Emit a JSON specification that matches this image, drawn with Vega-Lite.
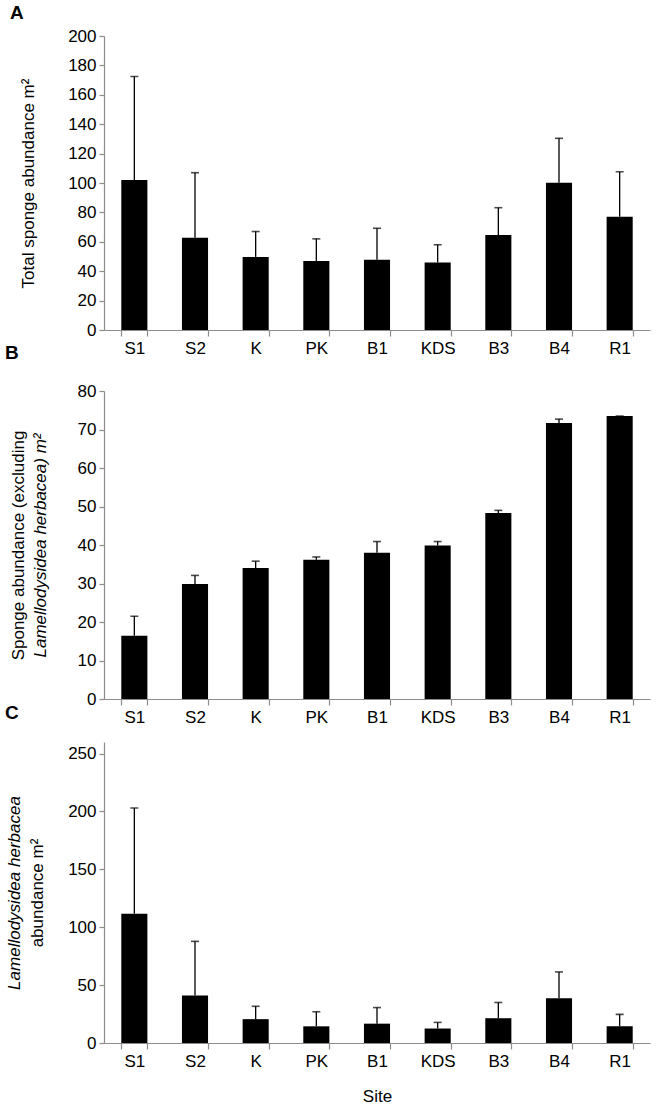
{
  "$schema": "https://vega.github.io/schema/vega-lite/v6.json",
  "background": "white",
  "padding": {"left": 5, "top": 4, "right": 3, "bottom": 3},
  "config": {
    "font": "Liberation Sans",
    "view": {"stroke": null},
    "axis": {
      "labelFont": "Liberation Sans", "labelFontSize": 17, "labelColor": "#000",
      "titleFont": "Liberation Sans", "titleFontSize": 17, "titleFontWeight": "normal", "titleColor": "#000",
      "domainColor": "#8c8c8c", "tickColor": "#8c8c8c", "grid": false, "domainWidth": 1.2, "tickWidth": 1.2
    },
    "axisX": {"labelAngle": 0, "tickBand": "extent", "tickSize": 6, "labelPadding": 4},
    "axisY": {"tickSize": 5, "labelPadding": 3, "labelOverlap": false},
    "title": {"font": "Liberation Sans", "fontSize": 19, "fontWeight": "bold", "anchor": "start", "frame": "group", "color": "#000", "baseline": "alphabetic"}
  },
  "datasets": {
    "A": [
      {"site": "S1", "mean": 102, "upper": 172.5},
      {"site": "S2", "mean": 62.8, "upper": 107},
      {"site": "K", "mean": 49.7, "upper": 67},
      {"site": "PK", "mean": 46.9, "upper": 62},
      {"site": "B1", "mean": 47.8, "upper": 69.2},
      {"site": "KDS", "mean": 46, "upper": 58},
      {"site": "B3", "mean": 64.6, "upper": 83.2},
      {"site": "B4", "mean": 100.2, "upper": 130.4},
      {"site": "R1", "mean": 77, "upper": 107.7}
    ],
    "B": [
      {"site": "S1", "mean": 16.4, "upper": 21.5},
      {"site": "S2", "mean": 29.9, "upper": 32.1},
      {"site": "K", "mean": 34, "upper": 35.8},
      {"site": "PK", "mean": 36.2, "upper": 36.9},
      {"site": "B1", "mean": 38, "upper": 40.9},
      {"site": "KDS", "mean": 39.9, "upper": 40.9},
      {"site": "B3", "mean": 48.3, "upper": 49},
      {"site": "B4", "mean": 71.7, "upper": 72.7},
      {"site": "R1", "mean": 73.5, "upper": 73.5}
    ],
    "C": [
      {"site": "S1", "mean": 111.7, "upper": 203},
      {"site": "S2", "mean": 41, "upper": 87.8},
      {"site": "K", "mean": 20.6, "upper": 31.7},
      {"site": "PK", "mean": 14.4, "upper": 27},
      {"site": "B1", "mean": 16.7, "upper": 30.6},
      {"site": "KDS", "mean": 12.5, "upper": 17.8},
      {"site": "B3", "mean": 21.4, "upper": 35},
      {"site": "B4", "mean": 38.6, "upper": 61.4},
      {"site": "R1", "mean": 14.4, "upper": 24.7}
    ]
  },
  "spacing": -21,
  "vconcat": [
    {
      "spacing": -12,
      "vconcat": [
        {
          "title": {"text": "A", "dx": -94, "offset": 4},
          "width": 546, "height": 294,
          "data": {"name": "A"},
          "encoding": {
            "x": {"field": "site", "type": "nominal", "sort": null,
                  "scale": {"paddingInner": 0.57, "paddingOuter": 0.285},
                  "axis": {"title": null}}
          },
          "layer": [
            {"mark": {"type": "bar", "color": "#000"},
             "encoding": {"y": {"field": "mean", "type": "quantitative",
               "scale": {"domain": [0, 200]},
               "axis": {"values": [0, 20, 40, 60, 80, 100, 120, 140, 160, 180, 200], "title": "Total sponge abundance m²", "titlePadding": 30}}}},
            {"mark": {"type": "rule", "color": "#000", "strokeWidth": 1.3},
             "encoding": {"y": {"field": "mean", "type": "quantitative", "axis": null}, "y2": {"field": "upper"}}},
            {"mark": {"type": "tick", "color": "#000", "thickness": 1.6, "size": 8},
             "encoding": {"y": {"field": "upper", "type": "quantitative", "axis": null}}}
          ],
          "resolve": {"axis": {"y": "independent"}}
        },
        {
          "title": {"text": "B", "dx": -99, "offset": 19},
          "width": 546, "height": 308,
          "data": {"name": "B"},
          "encoding": {
            "x": {"field": "site", "type": "nominal", "sort": null,
                  "scale": {"paddingInner": 0.57, "paddingOuter": 0.285},
                  "axis": {"title": null}}
          },
          "layer": [
            {"mark": {"type": "bar", "color": "#000"},
             "encoding": {"y": {"field": "mean", "type": "quantitative",
               "scale": {"domain": [0, 80]},
               "axis": {"values": [0, 10, 20, 30, 40, 50, 60, 70, 80], "title": "Lamellodysidea herbacea) m²", "titleFontStyle": "italic", "titlePadding": 28}}}},
            {"mark": {"type": "rule", "color": "#000", "strokeWidth": 1.3},
             "encoding": {"y": {"field": "mean", "type": "quantitative", "axis": null}, "y2": {"field": "upper"}}},
            {"mark": {"type": "tick", "color": "#000", "thickness": 1.6, "size": 8},
             "encoding": {"y": {"field": "upper", "type": "quantitative",
               "axis": {"orient": "left", "labels": false, "ticks": false, "domain": false, "title": "Sponge abundance (excluding", "titlePadding": 77}}}}
          ],
          "resolve": {"axis": {"y": "independent"}}
        }
      ]
    },
    {
      "title": {"text": "C", "dx": -99, "offset": 19},
      "width": 546, "height": 301,
      "data": {"name": "C"},
      "encoding": {
        "x": {"field": "site", "type": "nominal", "sort": null,
              "scale": {"paddingInner": 0.57, "paddingOuter": 0.285},
              "axis": {"title": "Site", "titlePadding": 19}}
      },
      "layer": [
        {"mark": {"type": "bar", "color": "#000"},
         "encoding": {"y": {"field": "mean", "type": "quantitative",
           "scale": {"domain": [0, 250]},
           "axis": {"values": [0, 50, 100, 150, 200, 250], "title": "abundance m²", "titlePadding": 21}}}},
        {"mark": {"type": "rule", "color": "#000", "strokeWidth": 1.3},
         "encoding": {"y": {"field": "mean", "type": "quantitative", "axis": null}, "y2": {"field": "upper"}}},
        {"mark": {"type": "tick", "color": "#000", "thickness": 1.6, "size": 8},
         "encoding": {"y": {"field": "upper", "type": "quantitative",
           "axis": {"orient": "left", "labels": false, "ticks": false, "domain": false, "title": "Lamellodysidea herbacea", "titleFontStyle": "italic", "titlePadding": 81}}}}
      ],
      "resolve": {"axis": {"y": "independent"}}
    }
  ]
}
